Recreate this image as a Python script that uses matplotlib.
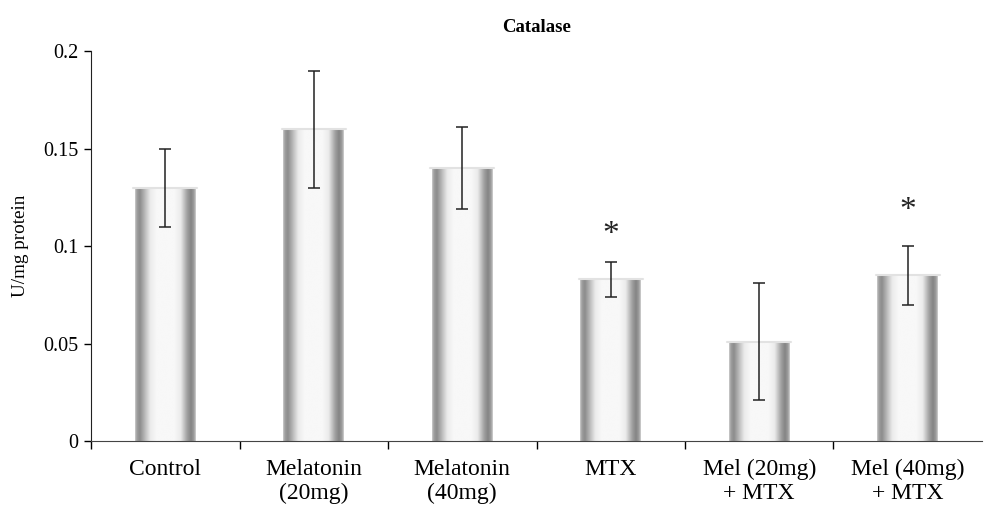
"""Catalase activity bar chart."""

import numpy as np
import matplotlib
matplotlib.use("Agg")
import matplotlib.pyplot as plt
from matplotlib.patches import Rectangle

groups = ["Control", "Melatonin\n(20mg)", "Melatonin\n(40mg)", "MTX",
          "Mel (20mg)\n+ MTX", "Mel (40mg)\n+ MTX"]
means = [0.130, 0.160, 0.140, 0.083, 0.051, 0.085]
errors = [0.020, 0.030, 0.021, 0.009, 0.030, 0.015]
star_groups = [3, 5]
star_levels = [0.106, 0.118]

plt.rcParams["font.family"] = ["Liberation Serif", "DejaVu Serif"]

fig = plt.figure(figsize=(9.89, 5.11), dpi=100)
ax = fig.add_axes([91 / 989, 70 / 511, (982 - 91) / 989, (441 - 51) / 511])

x = np.arange(len(groups))
width = 0.41

# horizontal shading that gives the bars a cylinder look
u = np.linspace(0, 1, 300)
shade = np.interp(u, [0, 0.03, 0.08, 0.14, 0.25, 0.35, 0.65, 0.75, 0.86, 0.92, 0.97, 1.0],
                  [0.80, 0.62, 0.55, 0.68, 0.92, 0.97, 0.97, 0.92, 0.62, 0.52, 0.62, 0.82])
grad = np.tile(shade, (2, 1))

for xi, m in zip(x, means):
    x0 = xi - width / 2
    im = ax.imshow(grad, cmap="gray", vmin=0, vmax=1, aspect="auto",
                   extent=[x0, x0 + width, 0, m], interpolation="bilinear", zorder=2)
    clip = Rectangle((x0, 0), width, m, transform=ax.transData, fc="none", ec="none")
    ax.add_patch(clip)
    im.set_clip_path(clip)
    ax.plot([x0 - 0.01, x0 + width + 0.01], [m, m], color="#e2e2e2", lw=1.5,
            solid_capstyle="round", zorder=2)

ax.errorbar(x, means, yerr=errors, fmt="none", ecolor="#222222", elinewidth=1.1,
            capsize=4.5, capthick=1.1, zorder=3)

for g, lvl in zip(star_groups, star_levels):
    ax.text(x[g], lvl, "*", ha="center", va="center", fontsize=24, color="#222222")

ax.set_xlim(-0.5, len(groups) - 0.5)
ax.set_ylim(0, 0.2)
ax.set_yticks([0, 0.05, 0.1, 0.15, 0.2])
ax.set_yticklabels(["0", "0.05", "0.1", "0.15", "0.2"])
ax.set_xticks(x)
ax.set_xticklabels(groups, fontsize=17, linespacing=1.2)
ax.set_xticks(np.arange(len(groups)) - 0.5, minor=True)
ax.tick_params(axis="x", which="major", length=0, pad=13)
ax.tick_params(axis="x", which="minor", length=6, width=1, direction="out")
ax.tick_params(axis="y", labelsize=14.5, length=5, width=1, direction="out", pad=4)

for side in ["top", "right"]:
    ax.spines[side].set_visible(False)
ax.spines["left"].set_color("#222222")
ax.spines["bottom"].set_color("#444444")

ax.set_ylabel("U/mg protein", fontsize=13.8, labelpad=10)
ax.set_title("Catalase", fontsize=13.5, fontweight="bold", pad=14)

fig.savefig("out.png", dpi=100)
